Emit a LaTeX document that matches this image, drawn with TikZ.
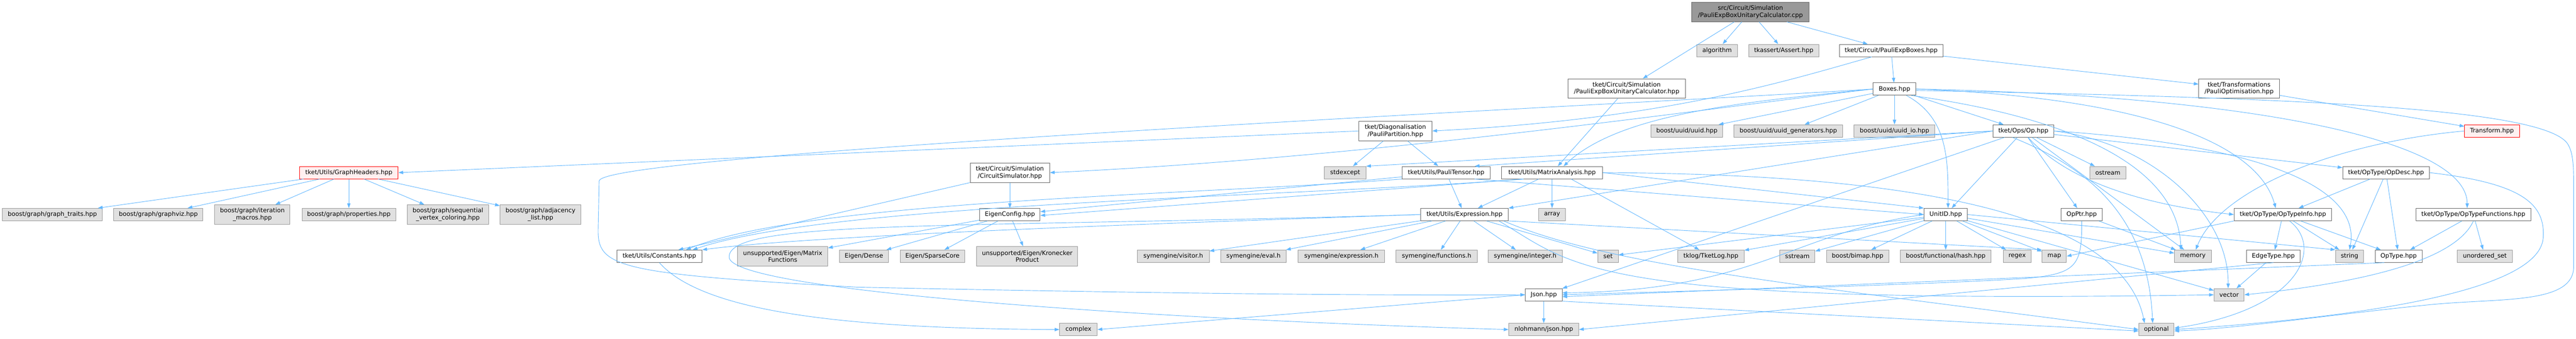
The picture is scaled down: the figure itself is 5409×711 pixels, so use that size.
\documentclass[tikz,border=0pt]{standalone}
\usepackage{fontspec}
\setmainfont{DejaVu Sans}
\usepackage{tikz}
\usetikzlibrary{arrows.meta}
\definecolor{edgeblue}{HTML}{63B8FF}
\definecolor{filegray}{HTML}{666666}
\definecolor{sysgray}{HTML}{999999}
\definecolor{sysfill}{HTML}{E0E0E0}
\definecolor{rootfill}{HTML}{999999}
\definecolor{truncfill}{HTML}{FFF0F0}

\begin{document}
\begin{tikzpicture}[x=1pt, y=-1pt,
    base/.style={draw, line width=1pt, inner sep=0pt, minimum height=26,
      font=\fontsize{12.8}{14.5}\selectfont},
    filebox/.style={base, draw=filegray, fill=white},
    sysbox/.style={base, draw=sysgray, fill=sysfill},
    rootbox/.style={base, draw=filegray, fill=rootfill},
    truncbox/.style={base, draw=red, fill=truncfill},
    twoline/.style={minimum height=41, align=center},
    incl/.style={draw=edgeblue, line width=1pt, -{Triangle[length=10pt,width=7pt]}}]
  \fill[white] (0,0) rectangle (5409,711);
  % top rows
  \node[rootbox, twoline, minimum width=247] (root) at (3675.5,25) {src/Circuit/Simulation\\/PauliExpBoxUnitaryCalculator.cpp};
  \node[sysbox, minimum width=85] (algorithm) at (3605.5,106) {algorithm};
  \node[sysbox, minimum width=147] (assert) at (3745.5,106) {tkassert/Assert.hpp};
  \node[filebox, minimum width=218] (pexb) at (3971,106) {tket/Circuit/PauliExpBoxes.hpp};
  \node[filebox, twoline, minimum width=247] (ucalc) at (3415.5,186) {tket/Circuit/Simulation\\/PauliExpBoxUnitaryCalculator.hpp};
  \node[filebox, minimum width=90] (boxes) at (3978,187) {Boxes.hpp};
  \node[filebox, twoline, minimum width=169] (paulopt) at (4701.5,186) {tket/Transformations\\/PauliOptimisation.hpp};
  \node[filebox, twoline, minimum width=154] (ppart) at (2930,275) {tket/Diagonalisation\\/PauliPartition.hpp};
  \node[sysbox, minimum width=150] (uuid) at (3542,275) {boost/uuid/uuid.hpp};
  \node[sysbox, minimum width=228] (uuidgen) at (3755,275) {boost/uuid/uuid\_generators.hpp};
  \node[sysbox, minimum width=170] (uuidio) at (3978,275) {boost/uuid/uuid\_io.hpp};
  \node[filebox, minimum width=127] (op) at (4248.5,275) {tket/Ops/Op.hpp};
  \node[truncbox, minimum width=115] (transform) at (5232.5,275) {Transform.hpp};
  % middle rows
  \node[truncbox, minimum width=207] (graphh) at (732.5,362.5) {tket/Utils/GraphHeaders.hpp};
  \node[filebox, twoline, minimum width=167] (circsim) at (2120.5,362.5) {tket/Circuit/Simulation\\/CircuitSimulator.hpp};
  \node[sysbox, minimum width=87] (stdexcept) at (2824.5,362.5) {stdexcept};
  \node[filebox, minimum width=185] (ptensor) at (3036.5,362.5) {tket/Utils/PauliTensor.hpp};
  \node[filebox, minimum width=212] (matan) at (3259,362.5) {tket/Utils/MatrixAnalysis.hpp};
  \node[sysbox, minimum width=76] (ostream) at (4426,362.5) {ostream};
  \node[filebox, minimum width=182] (opdesc) at (5010,362.5) {tket/OpType/OpDesc.hpp};
  \node[sysbox, minimum width=210] (gtraits) at (110,450.5) {boost/graph/graph\_traits.hpp};
  \node[sysbox, minimum width=187] (gviz) at (332.5,450.5) {boost/graph/graphviz.hpp};
  \node[sysbox, twoline, minimum width=158] (gitmac) at (530,450.5) {boost/graph/iteration\\\_macros.hpp};
  \node[sysbox, minimum width=197] (gprops) at (732.5,450.5) {boost/graph/properties.hpp};
  \node[sysbox, twoline, minimum width=171] (gseq) at (940.5,450.5) {boost/graph/sequential\\\_vertex\_coloring.hpp};
  \node[sysbox, twoline, minimum width=170] (gadj) at (1135,450.5) {boost/graph/adjacency\\\_list.hpp};
  \node[filebox, minimum width=127] (eigcfg) at (2120.5,450.5) {EigenConfig.hpp};
  \node[filebox, minimum width=184] (expr) at (3075,450.5) {tket/Utils/Expression.hpp};
  \node[sysbox, minimum width=56] (array) at (3259,450.5) {array};
  \node[filebox, minimum width=91] (unitid) at (4085.5,450.5) {UnitID.hpp};
  \node[filebox, minimum width=86] (opptr) at (4371,450.5) {OpPtr.hpp};
  \node[filebox, minimum width=205] (opinfo) at (4793.5,450.5) {tket/OpType/OpTypeInfo.hpp};
  \node[filebox, minimum width=241] (opfunc) at (5193.5,450.5) {tket/OpType/OpTypeFunctions.hpp};
  % lower rows
  \node[filebox, minimum width=179] (consts) at (1384.5,538) {tket/Utils/Constants.hpp};
  \node[sysbox, twoline, minimum width=189] (matfun) at (1643.5,538) {unsupported/Eigen/Matrix\\Functions};
  \node[sysbox, minimum width=102] (edense) at (1814,538) {Eigen/Dense};
  \node[sysbox, minimum width=136] (esparse) at (1958,538) {Eigen/SparseCore};
  \node[sysbox, twoline, minimum width=212] (kron) at (2157,538) {unsupported/Eigen/Kronecker\\Product};
  \node[sysbox, minimum width=151] (svisit) at (2463.5,538) {symengine/visitor.h};
  \node[sysbox, minimum width=138] (seval) at (2632,538) {symengine/eval.h};
  \node[sysbox, minimum width=181] (sexpr) at (2816.5,538) {symengine/expression.h};
  \node[sysbox, minimum width=171] (sfunc) at (3016.5,538) {symengine/functions.h};
  \node[sysbox, minimum width=155] (sint) at (3202.5,538) {symengine/integer.h};
  \node[sysbox, minimum width=43] (set) at (3376.5,538) {set};
  \node[sysbox, minimum width=139] (tklog) at (3592.5,538) {tklog/TketLog.hpp};
  \node[sysbox, minimum width=74] (sstream) at (3774,538) {sstream};
  \node[sysbox, minimum width=131] (bimap) at (3900.5,538) {boost/bimap.hpp};
  \node[sysbox, minimum width=191] (hash) at (4085.5,538) {boost/functional/hash.hpp};
  \node[sysbox, minimum width=59] (regex) at (4235.5,538) {regex};
  \node[sysbox, minimum width=51] (map) at (4313.5,538) {map};
  \node[sysbox, minimum width=77] (memory) at (4604.5,538) {memory};
  \node[filebox, minimum width=113] (edgetype) at (4773.5,538) {EdgeType.hpp};
  \node[sysbox, minimum width=59] (string) at (4933.5,538) {string};
  \node[filebox, minimum width=99] (optype) at (5036.5,538) {OpType.hpp};
  \node[sysbox, minimum width=115] (uset) at (5217.5,538) {unordered\_set};
  \node[filebox, minimum width=77] (json) at (3241.5,619) {Json.hpp};
  \node[sysbox, minimum width=63] (vector) at (4680.5,619) {vector};
  \node[sysbox, minimum width=79] (complex) at (2264.5,692) {complex};
  \node[sysbox, minimum width=147] (nlohmann) at (3241.5,692) {nlohmann/json.hpp};
  \node[sysbox, minimum width=74] (optional) at (4528,692) {optional};
  % includes of the source file and the top headers
  \draw[incl] (root) -- (ucalc);
  \draw[incl] (root) -- (algorithm);
  \draw[incl] (root) -- (assert);
  \draw[incl] (root) -- (pexb);
  \draw[incl] (ucalc) -- (matan);
  \draw[incl] (pexb) -- (boxes);
  \draw[incl] (pexb) -- (paulopt);
  \draw[incl] ([xshift=-41]pexb.south) .. controls (3750,170) and (3500,250) .. (ppart.east);
  \draw[incl] (paulopt) -- (transform);
  \draw[incl] (transform.west) .. controls (4900,300) and (4660,400) .. ([xshift=6]memory.north);
  % Boxes.hpp
  \draw[incl] (boxes) -- (uuid);
  \draw[incl] (boxes) -- (uuidgen);
  \draw[incl] (boxes) -- (uuidio);
  \draw[incl] (boxes) -- (op);
  \draw[incl] ([xshift=25]boxes.south) .. controls (4093,249) and (4090,340) .. ([xshift=5]unitid.north);
  \draw[incl] ([xshift=35]boxes.south) .. controls (4300,240) and (4570,330) .. ([xshift=-25]memory.north);
  \draw[incl] (boxes.west) .. controls (3650,215) and (3400,240) .. ([xshift=24]matan.north);
  \draw[incl] (boxes.west) .. controls (3600,225) and (2900,330) .. (circsim.east);
  \draw[incl] (boxes.west) .. controls (3500,215) and (1262,320) .. (1258,380) -- (1256,480)
    .. controls (1254,560) and (1290,575) .. (1800,603) .. controls (2600,620) and (3000,620) .. (json.west);
  \draw[incl] (boxes.east) .. controls (4500,205) and (4740,300) .. ([xshift=-15]opinfo.north);
  \draw[incl] (boxes.east) .. controls (4700,200) and (5180,290) .. ([xshift=-13]opfunc.north);
  \draw[incl] ([yshift=-3]boxes.east) .. controls (4800,205) and (5330,225) .. (5390,300)
    .. controls (5404,320) and (5404,350) .. (5404,400) -- (5404,560)
    .. controls (5404,640) and (5250,625) .. (5100,640) .. controls (4900,660) and (4700,690) .. ([yshift=-3]optional.east);
  % Op.hpp
  \draw[incl] (op.west) -- (stdexcept.north east);
  \draw[incl] (op.west) -- ([xshift=60]ptensor.north);
  \draw[incl] (op.west) -- (expr.north east);
  \draw[incl] (op) -- (json);
  \draw[incl] (op) -- (unitid);
  \draw[incl] (op) -- (opptr);
  \draw[incl] (op) -- (ostream);
  \draw[incl] (op) -- (opdesc);
  \draw[incl] (op) -- (memory);
  \draw[incl] ([xshift=10]op.south) .. controls (4340,380) and (4500,430) .. (opinfo.west);
  \draw[incl] (op.east) .. controls (4700,300) and (4960,380) .. (string.north);
  \draw[incl] (op.east) .. controls (4520,300) and (4680,450) .. ([xshift=-2]vector.north);
  \draw[incl] ([xshift=-23]op.south) .. controls (4380,350) and (4510,450) .. ([xshift=-8]optional.north);
  % PauliPartition.hpp and GraphHeaders.hpp
  \draw[incl] (ppart.west) -- (graphh.east);
  \draw[incl] (ppart) -- (stdexcept);
  \draw[incl] (ppart) -- (ptensor);
  \draw[incl] (graphh) -- (gtraits);
  \draw[incl] (graphh) -- (gviz);
  \draw[incl] (graphh) -- (gitmac);
  \draw[incl] (graphh) -- (gprops);
  \draw[incl] (graphh) -- (gseq);
  \draw[incl] (graphh) -- (gadj);
  % simulation, tensors and matrices
  \draw[incl] (circsim) -- (eigcfg);
  \draw[incl] (circsim.south west) -- ([xshift=-50]consts.north east);
  \draw[incl] (ptensor) -- (expr);
  \draw[incl] (ptensor) -- ([yshift=6]eigcfg.east);
  \draw[incl] (ptensor.south west) .. controls (2500,410) and (1700,420) .. ([xshift=-34]consts.north east);
  \draw[incl] ([xshift=60]ptensor.south) -- (unitid.west);
  \draw[incl] (matan) -- (expr);
  \draw[incl] (matan) -- (array);
  \draw[incl] ([xshift=40]matan.south) -- (tklog);
  \draw[incl] ([xshift=-60]matan.south) -- ([yshift=-2]eigcfg.east);
  \draw[incl] ([xshift=-60]matan.south) .. controls (2700,415) and (1750,425) .. ([xshift=-20]consts.north east);
  \draw[incl] (matan.east) -- (unitid.north west);
  \draw[incl] (matan.east) .. controls (3900,365) and (4450,420) .. ([xshift=-25]optional.north);
  \draw[incl] (eigcfg) -- (matfun);
  \draw[incl] (eigcfg) -- (edense);
  \draw[incl] (eigcfg) -- (esparse);
  \draw[incl] (eigcfg) -- (kron);
  % Expression.hpp
  \draw[incl] (expr) -- (svisit);
  \draw[incl] (expr) -- (seval);
  \draw[incl] (expr) -- (sexpr);
  \draw[incl] (expr) -- (sfunc);
  \draw[incl] (expr) -- (sint);
  \draw[incl] (expr) -- (set);
  \draw[incl] (expr.south east) -- (map.north west);
  \draw[incl] (expr.west) .. controls (2400,470) and (1700,495) .. (consts.north east);
  \draw[incl] (expr.west) .. controls (2000,480) and (1528,460) .. (1531,540)
    .. controls (1533,610) and (2400,670) .. (nlohmann.west);
  \draw[incl] ([xshift=-10]expr.south east) .. controls (3380,560) and (3800,600) .. (optional.west);
  \draw[incl] ([xshift=-20]expr.south east) .. controls (3310,560) and (3330,640) .. (vector.west);
  % UnitID.hpp and OpPtr.hpp
  \draw[incl] (unitid) -- (tklog);
  \draw[incl] (unitid) -- (sstream);
  \draw[incl] (unitid) -- (bimap);
  \draw[incl] (unitid) -- (hash);
  \draw[incl] (unitid) -- (regex);
  \draw[incl] (unitid) -- (map);
  \draw[incl] (unitid) -- (set);
  \draw[incl] (unitid) -- (memory);
  \draw[incl] (unitid) -- (vector);
  \draw[incl] (unitid.east) -- (string.north west);
  \draw[incl] (unitid.west) .. controls (3760,490) and (3690,610) .. ([yshift=4]json.east);
  \draw[incl] (opptr) -- (memory);
  \draw[incl] (opptr.south) .. controls (4372,560) and (4360,575) .. (4250,585)
    .. controls (4000,600) and (3500,612) .. (json.east);
  % op types
  \draw[incl] (opdesc) -- (opinfo);
  \draw[incl] (opdesc) -- (string);
  \draw[incl] (opdesc) -- (optype);
  \draw[incl] (opdesc.east) .. controls (5300,385) and (5345,430) .. (5340,500)
    .. controls (5330,620) and (4900,670) .. (optional.east);
  \draw[incl] (opinfo) -- (edgetype);
  \draw[incl] (opinfo) -- (string);
  \draw[incl] (opinfo) -- (optype);
  \draw[incl] (opinfo.south west) -- (map.east);
  \draw[incl] ([xshift=14]opinfo.south) .. controls (4880,520) and (4830,650) .. ([yshift=3]optional.east);
  \draw[incl] (opfunc) -- (optype);
  \draw[incl] (opfunc) -- (uset);
  \draw[incl] (opfunc.south) .. controls (5150,560) and (4900,600) .. (vector.east);
  \draw[incl] (edgetype) -- (vector);
  \draw[incl] (edgetype.south) -- (nlohmann.east);
  \draw[incl] ([xshift=-30]optype.south) -- ([yshift=-4]json.east);
  % bottom
  \draw[incl] (consts.south) .. controls (1480,660) and (1800,690) .. (complex.west);
  \draw[incl] (json) -- (nlohmann);
  \draw[incl] (json.west) -- (complex.east);
  \draw[incl] (json.south east) -- ([yshift=-3]optional.west);
\end{tikzpicture}
\end{document}
